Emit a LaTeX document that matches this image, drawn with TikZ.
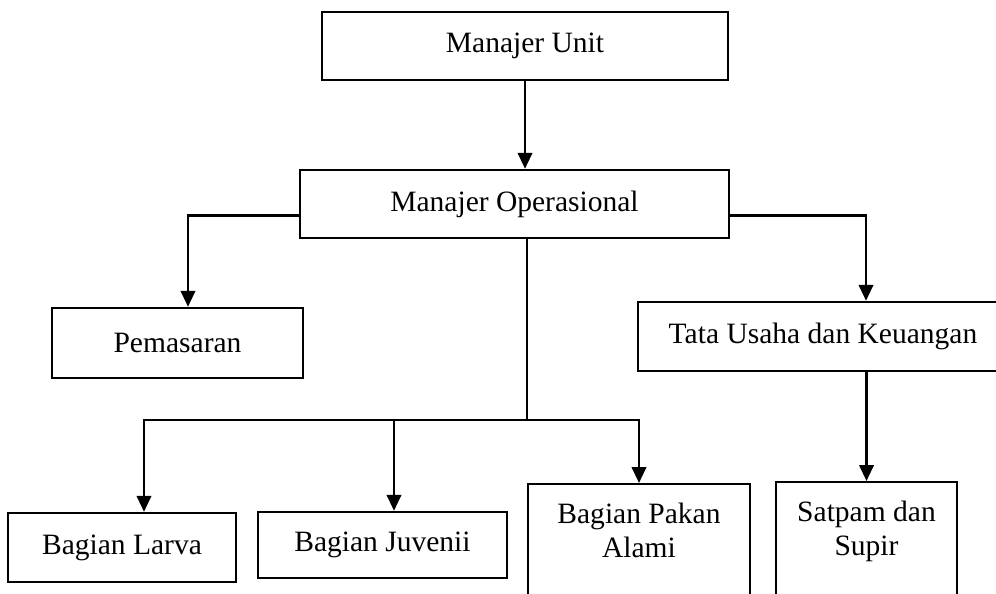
\documentclass[tikz,border=0pt]{standalone}
\usepackage{fontspec}
\setmainfont{Liberation Serif}
\usetikzlibrary{positioning,arrows.meta}

\tikzset{
	unit/.style={draw, line width=1.4pt, align=center, font=\fontsize{16.8}{19.5}\selectfont},
	lbl/.style={align=center, font=\fontsize{16.8}{19.5}\selectfont},
	link/.style={line width=1.4pt},
	arr/.style={line width=1.4pt, -{Triangle[length=3.2mm,width=2.9mm]}}
}

\begin{document}
\begin{tikzpicture}[x=0.02cm, y=-0.02cm]
	\clip (0,0) rectangle (996,594);
	\node [unit, minimum width=8.12cm, minimum height=1.36cm] (MU) at (525,46) {Manajer Unit};
	\node [unit, minimum width=8.58cm, minimum height=1.36cm] (MO) at (514.5,204) {Manajer Operasional};
	\node [unit, minimum width=5.02cm, minimum height=1.4cm] (PM) at (177.5,343) {Pemasaran};
	\node [unit, minimum width=7.4cm, minimum height=1.38cm] (TU) at (823,336.5) {Tata Usaha dan Keuangan};
	\node [unit, minimum width=4.56cm, minimum height=1.38cm] (BL) at (122,547.5) {Bagian Larva};
	\node [unit, minimum width=4.98cm, minimum height=1.32cm] (BJ) at (382.5,545) {Bagian Juvenii};
	\node [unit, anchor=north, minimum width=4.44cm, minimum height=3cm] (BP) at (639,483) {};
	\node [lbl, below=0.28cm of BP.north] (BP') {Bagian Pakan\\Alami};
	\node [unit, anchor=north, minimum width=3.62cm, minimum height=3cm] (SP) at (866.5,481) {};
	\node [lbl, below=0.28cm of SP.north] (SP') {Satpam dan\\Supir};
	\coordinate (hub) at (527,420);
	\draw [arr] (MU.south) to (MU.south |- MO.north);
	\draw [arr] ([yshift=-0.23cm]MO.west) -| ([xshift=0.21cm]PM.north);
	\draw [arr] ([yshift=-0.23cm]MO.east) -| ([xshift=0.86cm]TU.north);
	\draw [arr] (SP.north |- TU.south) to (SP.north);
	\draw [link] (MO.south -| hub) to (hub);
	\draw [arr] (hub) -| ([xshift=0.44cm]BL.north);
	\draw [arr] (hub) -| (BP.north);
	\draw [arr] ([xshift=0.23cm]BJ.north |- hub) to ([xshift=0.23cm]BJ.north);
\end{tikzpicture}
\end{document}
